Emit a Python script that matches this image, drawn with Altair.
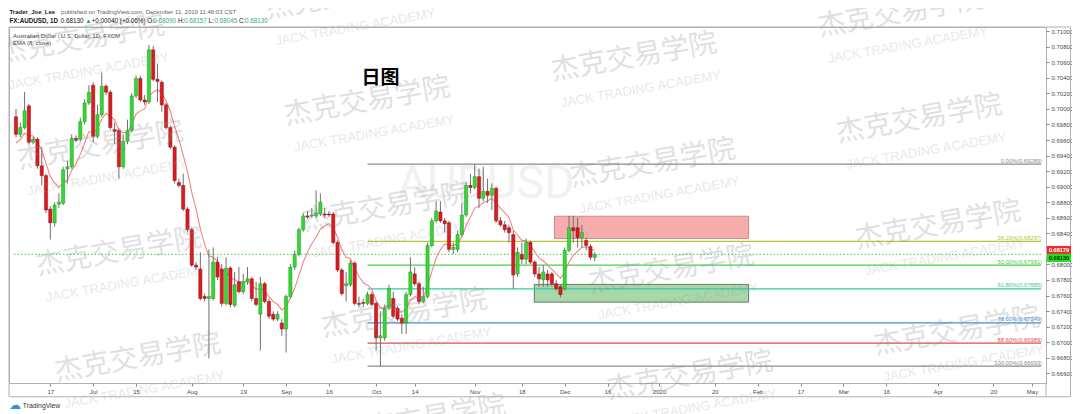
import altair as alt
import pandas as pd

# ---------------- data ----------------
OPEN = [0.69900, 0.69673, 0.69761, 0.70039, 0.69572, 0.69610, 0.69268, 0.69142, 0.68712, 0.68535,
        0.68775, 0.68788, 0.69230, 0.69256, 0.69622, 0.69610, 0.69837, 0.70077, 0.70305, 0.69648,
        0.69926, 0.70292, 0.70216, 0.69736, 0.69723, 0.69256, 0.69584, 0.69723, 0.70166, 0.70393,
        0.70115, 0.70090, 0.70760, 0.70381, 0.70343, 0.70052, 0.69761, 0.69509, 0.69053, 0.69016,
        0.68712, 0.68447, 0.67992, 0.67941, 0.67587, 0.67562, 0.67562, 0.68030, 0.67941, 0.67499,
        0.67954, 0.67473, 0.67777, 0.67650, 0.67777, 0.67815, 0.67562, 0.67360, 0.67752, 0.67524,
        0.67360, 0.67297, 0.67246, 0.67170, 0.67587, 0.67966, 0.68131, 0.68447, 0.68624, 0.68624,
        0.68624, 0.68649, 0.68649, 0.68649, 0.68649, 0.68282, 0.67929, 0.67726, 0.67739, 0.68017,
        0.67499, 0.67511, 0.67499, 0.67613, 0.67499, 0.67056, 0.67056, 0.67436, 0.67562, 0.67436,
        0.67309, 0.67246, 0.67613, 0.67878, 0.67752, 0.67524, 0.67587, 0.68244, 0.68561, 0.68674,
        0.68561, 0.68535, 0.68194, 0.68194, 0.68384, 0.68636, 0.69016, 0.68990, 0.69129, 0.68851,
        0.68940, 0.68889, 0.68978, 0.68561, 0.68510, 0.68472, 0.68384, 0.67878, 0.68131, 0.68067,
        0.68282, 0.68030, 0.67878, 0.67802, 0.67878, 0.67878, 0.67752, 0.67714, 0.67688, 0.68181,
        0.68472, 0.68472, 0.68346, 0.68308, 0.68232, 0.68090]
HIGH = [0.70001, 0.69825, 0.70216, 0.70065, 0.69635, 0.69635, 0.69509, 0.69167, 0.68750, 0.68801,
        0.68914, 0.69256, 0.69332, 0.69673, 0.69660, 0.69888, 0.70128, 0.70305, 0.70343, 0.70052,
        0.70469, 0.70317, 0.70242, 0.69825, 0.69749, 0.69673, 0.69862, 0.70204, 0.70431, 0.70431,
        0.70178, 0.70823, 0.70810, 0.70583, 0.70368, 0.70077, 0.69787, 0.69534, 0.69104, 0.69167,
        0.68737, 0.68472, 0.68030, 0.68156, 0.67625, 0.68194, 0.68219, 0.68093, 0.68004, 0.68093,
        0.67979, 0.67903, 0.67966, 0.67878, 0.67966, 0.67840, 0.67777, 0.67840, 0.67777, 0.67562,
        0.67398, 0.67398, 0.67297, 0.67613, 0.68004, 0.68181, 0.68472, 0.68662, 0.68687, 0.68725,
        0.68952, 0.68914, 0.68725, 0.68687, 0.68674, 0.68308, 0.67954, 0.67903, 0.68055, 0.68042,
        0.67587, 0.67562, 0.67650, 0.67650, 0.67524, 0.67398, 0.67486, 0.67739, 0.67650, 0.67461,
        0.67360, 0.67650, 0.68093, 0.67966, 0.67777, 0.67714, 0.68282, 0.68598, 0.68813, 0.68813,
        0.68598, 0.68561, 0.68282, 0.68434, 0.68788, 0.69066, 0.69167, 0.69289, 0.69230, 0.69256,
        0.69104, 0.69041, 0.69003, 0.68611, 0.68561, 0.68510, 0.68434, 0.68219, 0.68282, 0.68333,
        0.68308, 0.68055, 0.67966, 0.67992, 0.67929, 0.67903, 0.67802, 0.67739, 0.68219, 0.68624,
        0.68624, 0.68598, 0.68510, 0.68346, 0.68257, 0.68157]
LOW = [0.69635, 0.69635, 0.69736, 0.69546, 0.69546, 0.69230, 0.69016, 0.68662, 0.68320, 0.68485,
       0.68725, 0.68763, 0.69041, 0.69230, 0.69572, 0.69584, 0.69799, 0.70052, 0.69572, 0.69622,
       0.69900, 0.70178, 0.69736, 0.69546, 0.69104, 0.69230, 0.69546, 0.69698, 0.70141, 0.70090,
       0.70052, 0.70065, 0.70355, 0.70090, 0.69964, 0.69736, 0.69483, 0.69041, 0.68990, 0.68687,
       0.68409, 0.67966, 0.67929, 0.67537, 0.67524, 0.66791, 0.67537, 0.67802, 0.67461, 0.67473,
       0.67448, 0.67448, 0.67625, 0.67613, 0.67739, 0.67524, 0.67461, 0.66892, 0.67499, 0.67297,
       0.67271, 0.67271, 0.67082, 0.66867, 0.67562, 0.67929, 0.68105, 0.68421, 0.68586, 0.68598,
       0.68598, 0.68624, 0.68598, 0.68611, 0.68257, 0.67903, 0.67600, 0.67524, 0.67714, 0.67473,
       0.67448, 0.67448, 0.67473, 0.67461, 0.66892, 0.66693, 0.67018, 0.67410, 0.67309, 0.67271,
       0.67107, 0.67107, 0.67587, 0.67726, 0.67486, 0.67499, 0.67562, 0.68219, 0.68535, 0.68535,
       0.68409, 0.68156, 0.68131, 0.68156, 0.68358, 0.68611, 0.68914, 0.68965, 0.68725, 0.68813,
       0.68788, 0.68700, 0.68535, 0.68485, 0.68409, 0.68282, 0.67688, 0.67840, 0.68004, 0.68004,
       0.68004, 0.67840, 0.67714, 0.67714, 0.67714, 0.67714, 0.67663, 0.67575, 0.67663, 0.68156,
       0.68282, 0.68219, 0.68219, 0.68181, 0.68055, 0.68045]
CLOSE = [0.69673, 0.69761, 0.69976, 0.69572, 0.69610, 0.69268, 0.69142, 0.68700, 0.68535, 0.68763,
         0.68801, 0.69218, 0.69256, 0.69622, 0.69597, 0.69837, 0.70077, 0.70216, 0.69648, 0.69926,
         0.70292, 0.70216, 0.69761, 0.69711, 0.69256, 0.69584, 0.69723, 0.70166, 0.70393, 0.70115,
         0.70090, 0.70760, 0.70381, 0.70355, 0.70052, 0.69761, 0.69509, 0.69079, 0.69016, 0.68712,
         0.68447, 0.67992, 0.67966, 0.67562, 0.67562, 0.67587, 0.68030, 0.67840, 0.67499, 0.67954,
         0.67486, 0.67739, 0.67650, 0.67777, 0.67815, 0.67562, 0.67486, 0.67752, 0.67524, 0.67334,
         0.67297, 0.67360, 0.67170, 0.67587, 0.67966, 0.68131, 0.68447, 0.68624, 0.68611, 0.68636,
         0.68662, 0.68801, 0.68636, 0.68636, 0.68282, 0.67929, 0.67625, 0.67752, 0.68017, 0.67499,
         0.67486, 0.67499, 0.67613, 0.67486, 0.67056, 0.67082, 0.67436, 0.67688, 0.67334, 0.67297,
         0.67246, 0.67613, 0.67903, 0.67752, 0.67524, 0.67587, 0.68244, 0.68561, 0.68687, 0.68561,
         0.68523, 0.68194, 0.68219, 0.68384, 0.68636, 0.69016, 0.68990, 0.69129, 0.68851, 0.68940,
         0.68889, 0.68978, 0.68561, 0.68510, 0.68447, 0.68409, 0.67865, 0.68156, 0.68067, 0.68282,
         0.68030, 0.67878, 0.67815, 0.67903, 0.67802, 0.67752, 0.67688, 0.67613, 0.68181, 0.68472,
         0.68434, 0.68346, 0.68409, 0.68244, 0.68093, 0.68130]

EMA_LEN = 8
EMA_SEED = 0.6953          # EMA value read just left of the first bar

FIB_NAMES = ["0.00%", "38.20%", "50.00%", "61.80%", "78.60%", "88.60%", "100.00%"]
FIB_LEVELS = [0.69289, 0.68297, 0.67991, 0.67685, 0.67249, 0.66989, 0.66693]
FIB_COLORS = ["#8c8c8c", "#b2c83a", "#4bd04b", "#35c7a2", "#3d90d6", "#d94f4f", "#8c8c8c"]
FIB_START = 82

SUPPLY_X = [125.6, 170.9]
SUPPLY_Y = [0.68333, 0.68620]
DEMAND_X = [120.9, 170.9]
DEMAND_Y = [0.67515, 0.67743]

LAST_PRICE = 0.68130
EMA_TAG = 0.68179

TICK_IDX = [8, 18, 28, 41, 53, 63, 73, 84, 93, 107, 118, 128, 138, 150, 163, 173, 183, 193, 203, 215, 228, 237]
TICK_LBL = ["17", "Jul", "15", "Aug", "19", "Sep", "16", "Oct", "14", "Nov", "18", "Dec",
            "16", "2020", "20", "Feb", "17", "Mar", "16", "Apr", "20", "May"]
# 0.68200 sits under the EMA price tag in the reference and is not shown
Y_TICKS = [0.666, 0.668, 0.670, 0.672, 0.674, 0.676, 0.678, 0.680, 0.684, 0.686, 0.688,
           0.690, 0.692, 0.694, 0.696, 0.698, 0.700, 0.702, 0.704, 0.706, 0.708, 0.710]

# ---------------- layout ----------------
W, H = 1037, 356
PAD = {"left": 1, "top": 19, "right": 26, "bottom": 31}
XD = [-0.47, 239.1]
YD = [0.66475, 0.71054]
FONT = "Liberation Sans"
CJK = "Noto Sans CJK SC"


def px(xr):
    return (xr - 3.0) * W / 1047.0


def py(yr):
    return (yr - 20.7) * H / 362.3


def to_idx(xr):
    return (xr - 5.04) / 4.37


def to_price(yr):
    return 0.71316 - 0.0001264 * yr


XS = alt.Scale(domain=XD, nice=False, zero=False)
YS = alt.Scale(domain=YD, nice=False, zero=False)
LBL_EXPR = "[" + ",".join("'%s'" % s for s in TICK_LBL) + "][indexof([" + \
    ",".join(str(v) for v in TICK_IDX) + "], datum.value)]"
XAXIS = alt.Axis(values=TICK_IDX, labelExpr=LBL_EXPR, title=None, grid=False, domain=False,
                 tickSize=3, tickColor="#8a8a8a", labelFontSize=6, labelColor="#4a4a4a",
                 labelFont=FONT, labelPadding=2, labelOverlap=False, labelFlush=False, zindex=0)
YAXIS = alt.Axis(orient="right", values=Y_TICKS, format=".5f", title=None, grid=False,
                 domain=False, tickSize=3, tickColor="#8a8a8a", labelFontSize=6,
                 labelColor="#4a4a4a", labelFont=FONT, labelPadding=2, labelOverlap=False,
                 labelFlush=False, zindex=0)


def xq(f):
    return alt.X(f, type="quantitative", scale=XS, axis=XAXIS)


def yq(f):
    return alt.Y(f, type="quantitative", scale=YS, axis=YAXIS)


ONE = pd.DataFrame({"k": [0]})


def T(text, x, y, size=6.2, color="#131722", weight="normal", align="left",
      baseline="alphabetic", font=FONT):
    return alt.Chart(ONE).mark_text(align=align, baseline=baseline, fontSize=size, font=font,
                                    color=color, fontWeight=weight).encode(
        x=alt.value(x), y=alt.value(y), text=alt.value(text))


# ---------------- frames ----------------
n = len(OPEN)
ema = []
prev = EMA_SEED
k = 2.0 / (EMA_LEN + 1)
for c in CLOSE:
    prev = prev + k * (c - prev)
    ema.append(prev)

df = pd.DataFrame({"i": list(range(n)), "o": OPEN, "h": HIGH, "l": LOW, "c": CLOSE, "ema": ema})
df["fill"] = ["#35d635" if c >= o else "#dc1a1f" for o, c in zip(OPEN, CLOSE)]
df["edge"] = ["#1e9a1e" if c >= o else "#900e12" for o, c in zip(OPEN, CLOSE)]

fib = pd.DataFrame({"name": FIB_NAMES, "level": FIB_LEVELS, "col": FIB_COLORS})
fib["start"] = FIB_START
fib["end"] = XD[1]
fib["label"] = ["%s(%.5f)" % (a, b) for a, b in zip(FIB_NAMES, FIB_LEVELS)]

supply = pd.DataFrame({"x": [SUPPLY_X[0]], "x2": [SUPPLY_X[1]], "lo": [SUPPLY_Y[0]], "hi": [SUPPLY_Y[1]]})
demand = pd.DataFrame({"x": [DEMAND_X[0]], "x2": [DEMAND_X[1]], "lo": [DEMAND_Y[0]], "hi": [DEMAND_Y[1]]})
lastp = pd.DataFrame({"p": [LAST_PRICE], "a": [XD[0]], "b": [XD[1]]})

# watermark lattice (decoration)
cn, en = [], []
for cc in range(-1, 3):
    for rr in range(-1, 4):
        xr = 363 + 272 * cc + 19 * rr
        yr = 97 - 45 * cc + 108 * rr
        if -95 < xr < 1165 and -35 < yr < 440:
            cn.append({"x": to_idx(xr), "y": to_price(yr), "t": "杰克交易学院"})
            en.append({"x": to_idx(xr + 7), "y": to_price(yr + 32), "t": "JACK TRADING ACADEMY"})
cn = pd.DataFrame(cn)
en = pd.DataFrame(en)
sym = pd.DataFrame({"x": [to_idx(484)], "y": [to_price(180)], "t": ["AUDUSD"]})

layers = []
layers.append(alt.Chart(sym).mark_text(font="Roboto", fontSize=46, color="#000000", opacity=0.05,
                                       align="center", baseline="middle").encode(
    x=xq("x"), y=yq("y"), text="t:N"))
layers.append(alt.Chart(supply).mark_rect(color="#f3a5a2", opacity=0.9, stroke="#b86a6a",
                                          strokeWidth=0.8).encode(
    x=xq("x"), x2="x2", y=yq("lo"), y2="hi"))
layers.append(alt.Chart(demand).mark_rect(color="#9fd4a0", opacity=0.9, stroke="#3c4a3c",
                                          strokeWidth=0.8).encode(
    x=xq("x"), x2="x2", y=yq("lo"), y2="hi"))
layers.append(alt.Chart(fib).mark_rule(strokeWidth=1.2).encode(
    x=xq("start"), x2="end", y=yq("level"), color=alt.Color("col:N", scale=None)))
layers.append(alt.Chart(lastp).mark_rule(strokeWidth=1, strokeDash=[1.5, 2], color="#4cc44c").encode(
    x=xq("a"), x2="b", y=yq("p")))
layers.append(alt.Chart(df).mark_line(color="#f08585", strokeWidth=1.1).encode(
    x=xq("i"), y=yq("ema")))
layers.append(alt.Chart(df).mark_rule(color="#707070", strokeWidth=1).encode(
    x=xq("i"), y=yq("l"), y2="h"))
layers.append(alt.Chart(df).mark_bar(size=3.2, strokeWidth=0.5).encode(
    x=xq("i"), y=yq("o"), y2="c", color=alt.Color("fill:N", scale=None),
    stroke=alt.Stroke("edge:N", scale=None)))
layers.append(alt.Chart(fib).mark_text(align="right", baseline="bottom", dy=-0.5, fontSize=5.8,
                                       font=FONT).encode(
    x=alt.value(px(1046)), y=yq("level"), text="label:N", color=alt.Color("col:N", scale=None)))
layers.append(alt.Chart(cn).mark_text(font=CJK, fontSize=28, angle=350, color="#8f8f8f", opacity=0.27,
                                      align="center", baseline="middle").encode(
    x=xq("x"), y=yq("y"), text="t:N"))
layers.append(alt.Chart(en).mark_text(font=FONT, fontSize=13, angle=350, color="#8f8f8f", opacity=0.2,
                                      align="center", baseline="middle").encode(
    x=xq("x"), y=yq("y"), text="t:N"))
layers.append(T("日图", px(378), py(73), size=19, color="#000000", weight="bold", align="center",
                baseline="middle", font=CJK))

# header texts
CW = {ch: 0.556 for ch in "0123456789"}
CW.update({".": 0.278, ",": 0.278, ":": 0.278, " ": 0.278, "(": 0.333, ")": 0.333, "%": 0.889,
           "+": 0.584, "_": 0.556, "/": 0.278, "\u25b2": 0.72})


def tw(s, size, bold=False):
    w = 0.0
    for ch in s:
        if ch in CW:
            w += CW[ch]
        elif ch.isupper():
            w += 0.72 if bold else 0.68
        else:
            w += 0.56 if bold else 0.5
    return w * size


def run(segs, y, size):
    out = []
    x = 0.5
    for s, color, weight in segs:
        core = s.strip(" ")
        lead = len(s) - len(s.lstrip(" "))
        trail = len(s) - len(s.rstrip(" "))
        x += lead * 0.278 * size
        if core:
            out.append(T(core, x, y, size, color, weight))
            x += tw(core, size, weight == "bold")
        x += trail * 0.278 * size
    return out


DARK = "#131722"
GREY = "#5d606b"
TEAL = "#3aa88f"
layers += run([("Trader_Joe_Lee", DARK, "bold"),
               (" published on TradingView.com, December 11, 2019 11:46:03 CST", GREY, "normal")],
              py(7.8), 6.0)
layers += run([("FX:AUDUSD, 1D", DARK, "bold"), (" 0.68130 ", DARK, "normal"),
               ("\u25b2", "#26a65b", "normal"), (" +0.00040 (+0.06%) ", DARK, "normal"),
               ("O:", DARK, "normal"), ("0.68090", TEAL, "normal"),
               (" H:", DARK, "normal"), ("0.68157", TEAL, "normal"),
               (" L:", DARK, "normal"), ("0.68045", TEAL, "normal"),
               (" C:", DARK, "normal"), ("0.68130", TEAL, "normal")], py(16.3), 6.3)
layers.append(T("Australian Dollar / U.S. Dollar, 1D, FXCM", px(7), py(31.5), 5.9, "#4b4b4b"))
layers.append(T("EMA (8, close)", px(7), py(39.5), 5.9, "#4b4b4b"))

# panel frame lines
layers.append(alt.Chart(ONE).mark_rect(color="#ffffff", fillOpacity=0, stroke="#b0b0b0",
                                       strokeWidth=1).encode(
    x=alt.value(0), x2=alt.value(W + 24.5), y=alt.value(0), y2=alt.value(py(397))))
layers.append(alt.Chart(ONE).mark_rule(color="#b0b0b0", strokeWidth=1).encode(
    x=alt.value(W), y=alt.value(H), y2=alt.value(py(397))))

# price tags on the axis
TAG = "M-1,-0.34L1,-0.34L1,0.34L-1,0.34Z"
tag_r = pd.DataFrame({"p": [EMA_TAG], "t": ["%.5f" % EMA_TAG]})
tag_g = pd.DataFrame({"p": [LAST_PRICE], "t": ["%.5f" % LAST_PRICE]})
layers.append(alt.Chart(tag_r).mark_point(shape=TAG, size=576, filled=True, opacity=1,
                                          color="#ee2b2b", yOffset=-0.5).encode(
    x=alt.value(W + 13), y=yq("p")))
layers.append(alt.Chart(tag_r).mark_text(fontSize=5.6, fontWeight="bold", color="#ffffff",
                                         align="center", baseline="middle", font=FONT,
                                         yOffset=-0.5).encode(
    x=alt.value(W + 13), y=yq("p"), text="t:N"))
layers.append(alt.Chart(tag_g).mark_point(shape=TAG, size=576, filled=True, opacity=1,
                                          color="#22dd22", yOffset=3.6).encode(
    x=alt.value(W + 13), y=yq("p")))
layers.append(alt.Chart(tag_g).mark_text(fontSize=5.6, fontWeight="bold", color="#0b3b0b",
                                         align="center", baseline="middle", font=FONT,
                                         yOffset=3.6).encode(
    x=alt.value(W + 13), y=yq("p"), text="t:N"))

# TradingView logo
layers.append(T("\u2601", px(9), py(405), 12, "#2f8fe0", align="center", baseline="middle",
                font="DejaVu Sans"))
layers.append(T("TradingView", px(17), py(408.5), 6.8, "#333333"))

chart = alt.LayerChart(layer=layers).properties(
    width=W, height=H, padding=PAD, autosize=alt.AutoSizeParams(type="none"),
    background="white"
).configure_view(stroke="#b0b0b0", strokeWidth=1)

chart.save("out.html", embed_options={"renderer": "svg", "actions": False})
